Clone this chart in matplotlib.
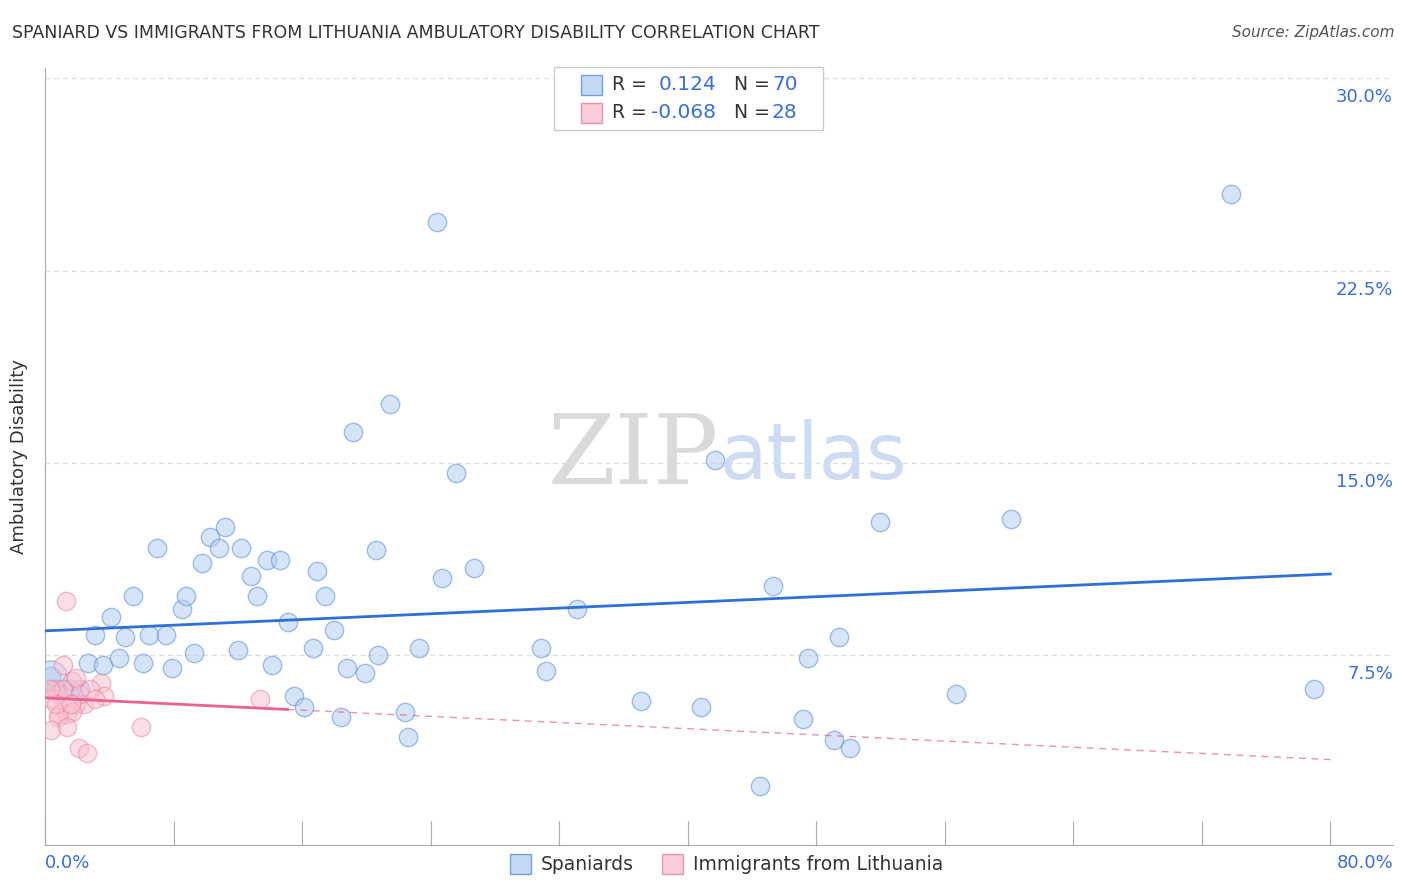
import matplotlib
matplotlib.use("Agg")
import matplotlib.pyplot as plt
from matplotlib.patches import Rectangle
import numpy as np

span_x = [0.4,0.6,1.1,1.6,2.2,2.7,3.1,3.6,4.1,4.6,5.0,5.5,6.1,6.5,7.0,7.5,7.9,8.5,8.8,9.3,9.8,10.3,10.8,11.2,12.0,12.2,12.8,13.2,13.8,14.1,14.6,15.1,15.5,16.1,16.7,16.9,17.4,18.0,18.4,18.8,19.2,19.9,20.6,20.7,21.5,22.4,22.6,23.3,24.4,24.7,25.6,26.7,30.9,31.2,33.1,37.1,40.8,41.7,44.5,45.3,47.2,47.5,49.1,49.4,50.1,52.0,56.7,60.1,73.8,79.0]
span_y = [6.7,6.1,6.2,6.2,6.2,7.2,8.3,7.1,9.0,7.4,8.2,9.8,7.2,8.3,11.7,8.3,7.0,9.3,9.8,7.6,11.1,12.1,11.7,12.5,7.7,11.7,10.6,9.8,11.2,7.1,11.2,8.8,5.9,5.5,7.8,10.8,9.8,8.5,5.1,7.0,16.2,6.8,11.6,7.5,17.3,5.3,4.3,7.8,24.4,10.5,14.6,10.9,7.8,6.9,9.3,5.7,5.5,15.1,2.4,10.2,5.0,7.4,4.2,8.2,3.9,12.7,6.0,12.8,25.5,6.2]
lith_x = [1.3,1.1,1.7,3.5,1.9,0.6,0.8,3.7,0.4,13.4,1.9,2.4,0.9,1.4,1.7,0.8,0.4,1.4,6.0,2.1,2.6,1.1,2.2,2.8,0.7,1.6,3.1,0.3]
lith_y = [9.6,7.1,6.5,6.4,6.6,6.2,6.0,5.9,5.8,5.8,5.6,5.6,5.2,5.2,5.3,5.1,4.6,4.7,4.7,3.9,3.7,6.2,6.0,6.2,5.6,5.6,5.8,6.2]
span_trend = (8.45, 10.67)      # y at x=0 and x=80
lith_trend = (5.84, 3.43)       # y at x=0 and x=80
lith_solid_end = 15.1
yticks = [7.5, 15.0, 22.5, 30.0]

BLUE_F, BLUE_E, BLUE_L = "#b5cff2", "#5b8fd8", "#2f6fd6"
PINK_F, PINK_E, PINK_L = "#f9c0d0", "#e9809f", "#e8638f"
TXT = "#3a6fd8"

fig = plt.figure(figsize=(14.06, 8.92), dpi=100)
ax = fig.add_axes([45/1406, 1-845/892, (1393-45)/1406, (845-68)/892])
ax.set_xlim(0, 83.9)
ax.set_ylim(0.1, 30.4)

for y in yticks:
    ax.axhline(y, color="#dddddd", ls=(0, (4, 3)), lw=0.9, zorder=0)

ax.scatter(span_x, span_y, s=175, c=BLUE_F, edgecolors=BLUE_E, linewidths=1.0, alpha=0.55, zorder=3)
ax.scatter([0.4], [6.7], s=500, c=BLUE_F, edgecolors=BLUE_E, linewidths=1.0, alpha=0.5, zorder=3)
ax.scatter(lith_x, lith_y, s=175, c=PINK_F, edgecolors=PINK_E, linewidths=1.0, alpha=0.5, zorder=4)

xs = np.array([0, 80])
ax.plot(xs, span_trend, color=BLUE_L, lw=2, zorder=5)
ly = lambda x: lith_trend[0] + (lith_trend[1]-lith_trend[0])*x/80
ax.plot([0, lith_solid_end], [ly(0), ly(lith_solid_end)], color=PINK_L, lw=2, zorder=5)
ax.plot([lith_solid_end, 80], [ly(lith_solid_end), ly(80)], color=PINK_L, lw=1, ls=(0, (5, 4)), alpha=0.7, zorder=5)

for s in ["top", "right"]:
    ax.spines[s].set_visible(False)
ax.spines["left"].set_color("#aaaaaa")
ax.spines["bottom"].set_color("#aaaaaa")
ax.set_yticks([])
ax.set_xticks(np.arange(0, 81, 8))
ax.tick_params(axis="x", direction="in", length=17, color="#aaaaaa", labelbottom=False)
for y in yticks:
    ax.annotate(f"{y:.1f}%", xy=(1, y), xycoords=("axes fraction", "data"), xytext=(0, -19),
                textcoords="offset pixels", ha="right", va="center", color=TXT, fontsize=13)
fig.text(45/1406, 1-863/892, "0.0%", color=TXT, fontsize=13, va="center")
fig.text(1393/1406, 1-863/892, "80.0%", color=TXT, fontsize=13, va="center", ha="right")
ax.set_ylabel("Ambulatory Disability", fontsize=13, color="#333333", labelpad=12)

fig.text(12/1406, 1-33/892, "SPANIARD VS IMMIGRANTS FROM LITHUANIA AMBULATORY DISABILITY CORRELATION CHART",
         fontsize=12.5, color="#333333", va="center")
fig.text(1394/1406, 1-33/892, "Source: ZipAtlas.com", fontsize=11, color="#555555", va="center", ha="right", style="italic")

ax.text(0.5, 0.5, "ZIP", transform=ax.transAxes, fontsize=70, color="#dadada", ha="right", va="center",
        family="DejaVu Serif", zorder=1)
ax.text(0.5, 0.5, "atlas", transform=ax.transAxes, fontsize=56, color="#cddcf2", ha="left", va="center", zorder=1)

# top legend
fig.patches.append(Rectangle((554/1406, 1-130/892), 269/1406, 63/892, transform=fig.transFigure,
                             fc="white", ec="#cccccc", lw=1))
for yy, fc, ec, r, n in [(85, BLUE_F, BLUE_E, "0.124", "70"), (113, PINK_F, PINK_E, "-0.068", "28")]:
    fig.patches.append(Rectangle((581/1406, 1-(yy+10)/892), 21/1406, 20/892, transform=fig.transFigure,
                                 fc=fc, ec=ec, lw=1, alpha=0.8))
    fig.text(612/1406, 1-yy/892, "R =", fontsize=13.5, color="#333333", va="center")
    fig.text(716/1406, 1-yy/892, r, fontsize=14.5, color=TXT, va="center", ha="right")
    fig.text(734/1406, 1-yy/892, "N =", fontsize=13.5, color="#333333", va="center")
    fig.text(772/1406, 1-yy/892, n, fontsize=14.5, color=TXT, va="center")

# bottom legend
for x0, fc, ec, lab in [(510, BLUE_F, BLUE_E, "Spaniards"), (662, PINK_F, PINK_E, "Immigrants from Lithuania")]:
    fig.patches.append(Rectangle((x0/1406, 1-874/892), 21/1406, 20/892, transform=fig.transFigure,
                                 fc=fc, ec=ec, lw=1, alpha=0.8))
    fig.text((x0+31)/1406, 1-864/892, lab, fontsize=13.5, color="#333333", va="center")

fig.savefig("out.png", dpi=100)
